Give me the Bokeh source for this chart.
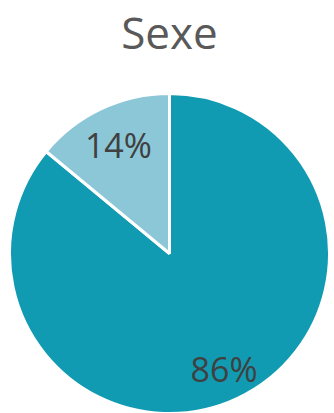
import math
from bokeh.plotting import figure
from bokeh.models import ColumnDataSource, Label
from bokeh.core.properties import value
from bokeh.embed import file_html
from bokeh.resources import INLINE

title = "Sexe"
categories = ["Homme", "Femme"]
percents = [86, 14]
colors = ["#119bb2", "#8cc7d8"]
labels = ["86%", "14%"]

W, H = 334, 413
cx, cy, r = 169, H - 253, 160

p = figure(width=W, height=H, x_range=(0, W), y_range=(0, H),
           output_backend="svg", toolbar_location=None, min_border=0)
p.axis.visible = False
p.grid.visible = False
p.outline_line_color = None
p.background_fill_color = "white"

total = sum(percents)
starts, ends, lx, ly = [], [], [], []
acc = 0.0
label_r = [0.80, 0.75]
for i, v in enumerate(percents):
    a0 = acc / total
    a1 = (acc + v) / total
    acc += v
    starts.append(math.pi / 2 - a1 * 2 * math.pi)
    ends.append(math.pi / 2 - a0 * 2 * math.pi)
    mid = math.pi / 2 - (a0 + a1) / 2 * 2 * math.pi
    lx.append(cx + label_r[i] * r * math.cos(mid))
    ly.append(cy + label_r[i] * r * math.sin(mid))

src = ColumnDataSource(dict(start=starts, end=ends, color=colors, cat=categories,
                            lx=lx, ly=ly, label=labels))
p.wedge(x=cx, y=cy, radius=r, start_angle="start", end_angle="end",
        fill_color="color", line_color="white", line_width=3, source=src)
p.text(x="lx", y="ly", text="label", source=src, text_align="center",
       text_baseline="middle", text_font=value("Open Sans"),
       text_font_size="34px", text_color="#404040")

p.add_layout(Label(x=cx, y=H - 31, text=title, text_align="center",
                   text_baseline="middle", text_font="Open Sans",
                   text_font_size="44px", text_color="#595959"))

open("out.html", "w").write(file_html(p, INLINE))
